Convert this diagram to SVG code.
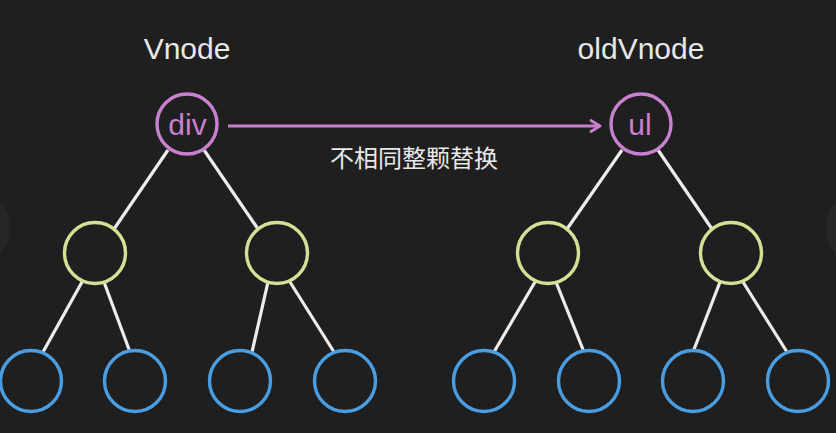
<svg xmlns="http://www.w3.org/2000/svg" width="836" height="433" viewBox="0 0 836 433">
<defs>
<style>
.bg{fill:#1f1f1f}
.n{fill:#1f1f1f;stroke-width:3.4}
.root{stroke:#c980cf}
.mid{stroke:#d6df95}
.leaf{stroke:#4a9de0}
.edge{stroke:#ececec;stroke-width:3.2;fill:none}
.arrow{stroke:#c980cf;stroke-width:3;fill:none}
.title{font-family:"Liberation Sans",Arial,sans-serif;font-size:30px;fill:#e8e8e8;text-anchor:middle}
.lbl{font-family:"Liberation Sans",Arial,sans-serif;font-size:30px;fill:#c980cf;text-anchor:middle}
.cap{font-family:"Noto Sans CJK SC","Liberation Sans",sans-serif;font-size:24px;fill:#e8e8e8;text-anchor:middle}
</style>
<marker id="ah" viewBox="0 0 14 14" refX="12" refY="7" markerWidth="14" markerHeight="14" markerUnits="userSpaceOnUse" orient="auto">
<path d="M3,1.5 L12,7 L3,12.5" fill="none" stroke="#c980cf" stroke-width="2.8" stroke-linecap="round" stroke-linejoin="round"/>
</marker>
</defs>
<rect class="bg" x="0" y="0" width="836" height="433"/>
<circle cx="-30" cy="228" r="40" fill="#262626"/>
<circle cx="866" cy="228" r="40" fill="#262626"/>
<g id="connectors">
<line class="edge" x1="168" y1="150" x2="114" y2="229"/>
<line class="edge" x1="204" y1="150" x2="258" y2="229"/>
<line class="edge" x1="82" y1="282" x2="43" y2="352"/>
<line class="edge" x1="104" y1="282" x2="130" y2="352"/>
<line class="edge" x1="268" y1="282" x2="252" y2="352"/>
<line class="edge" x1="290" y1="282" x2="334" y2="352"/>
<line class="edge" x1="622" y1="150" x2="567" y2="229"/>
<line class="edge" x1="658" y1="150" x2="712" y2="229"/>
<line class="edge" x1="535" y1="282" x2="494" y2="352"/>
<line class="edge" x1="556" y1="282" x2="584" y2="352"/>
<line class="edge" x1="720" y1="282" x2="693" y2="352"/>
<line class="edge" x1="743" y1="282" x2="787" y2="352"/>
<line class="arrow" x1="228" y1="126" x2="600" y2="126" marker-end="url(#ah)"/>
</g>
<text class="title" x="187" y="59">Vnode</text>
<text class="title" x="641" y="59">oldVnode</text>
<text class="cap" x="414" y="167">不相同整颗替换</text>
<g id="div"><circle class="n root" cx="187" cy="124" r="30"/><text class="lbl" x="187.5" y="135">div</text></g>
<g id="ul"><circle class="n root" cx="641" cy="124" r="30"/><text class="lbl" x="640" y="135">ul</text></g>
<g id="l2a"><circle class="n mid" cx="95" cy="253" r="30.5"/></g>
<g id="l2b"><circle class="n mid" cx="277" cy="253" r="30.5"/></g>
<g id="r2a"><circle class="n mid" cx="548" cy="253" r="30.5"/></g>
<g id="r2b"><circle class="n mid" cx="731" cy="253" r="30.5"/></g>
<g id="l3a"><circle class="n leaf" cx="31" cy="381" r="30.5"/></g>
<g id="l3b"><circle class="n leaf" cx="135" cy="381" r="30.5"/></g>
<g id="l3c"><circle class="n leaf" cx="240" cy="381" r="30.5"/></g>
<g id="l3d"><circle class="n leaf" cx="345" cy="381" r="30.5"/></g>
<g id="r3a"><circle class="n leaf" cx="484" cy="381" r="30.5"/></g>
<g id="r3b"><circle class="n leaf" cx="589" cy="381" r="30.5"/></g>
<g id="r3c"><circle class="n leaf" cx="693" cy="381" r="30.5"/></g>
<g id="r3d"><circle class="n leaf" cx="798" cy="381" r="30.5"/></g>
</svg>
